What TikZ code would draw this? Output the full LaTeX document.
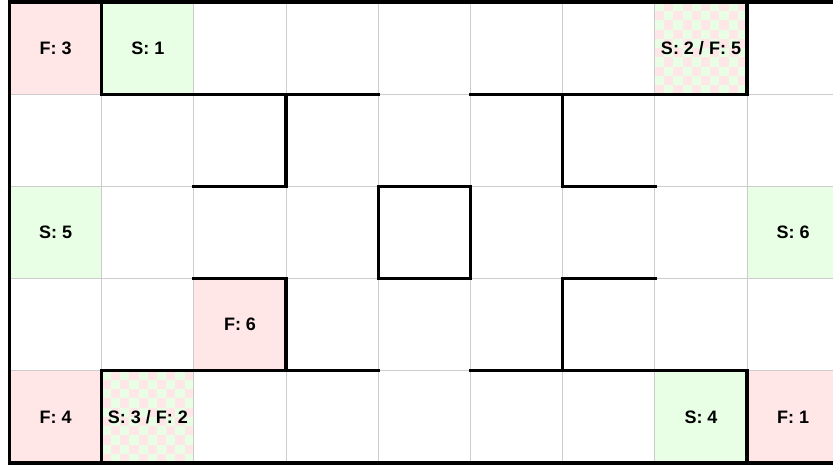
\documentclass[tikz,border=0pt]{standalone}
\usepackage{fontspec}
\setmainfont{Liberation Sans}
\definecolor{pinkc}{RGB}{255,231,231}
\definecolor{greenc}{RGB}{232,255,230}
\definecolor{gridc}{RGB}{204,204,204}
\tikzset{
  cellbox/.style={minimum size=92.2pt, inner sep=0pt, outer sep=0pt, font=\fontsize{18}{21}\selectfont\bfseries},
  pinkcell/.style={cellbox, fill=pinkc},
  greencell/.style={cellbox, fill=greenc},
  wall/.style={line width=3.3pt, line cap=rect, black},
  gridline/.style={gridc, line width=0.9pt}
}
\begin{document}
\begin{tikzpicture}[x=1pt,y=-1pt]
\useasboundingbox (0,0) rectangle (833,466);
\clip (0,0) rectangle (833,466);
\fill[white] (0,0) rectangle (833,466);
\begin{scope}[shift={(9.5pt,-2pt)}, x=92.2pt, y=-92.2pt]
  % checkered backgrounds
  \foreach \cx/\cy in {7/0, 1/4} {
    \fill[greenc] (\cx,\cy) rectangle ++(1,1);
    \foreach \i in {0,...,9} {
      \foreach \j in {0,...,9} {
        \pgfmathtruncatemacro\kk{mod(\i+\j,2)}
        \ifnum\kk=1
          \fill[pinkc] (\cx+\i/10,\cy+\j/10) rectangle ++(0.1,0.1);
        \fi
      }
    }
  }
  % coloured cells
  \node[pinkcell]  (f3) at (0.5,0.5) {};
  \node[greencell] (s1) at (1.5,0.5) {};
  \node[greencell] (s5) at (0.5,2.5) {};
  \node[greencell] (s6) at (8.5,2.5) {};
  \node[pinkcell]  (f6) at (2.5,3.5) {};
  \node[pinkcell]  (f4) at (0.5,4.5) {};
  \node[greencell] (s4) at (7.5,4.5) {};
  \node[pinkcell]  (f1) at (8.5,4.5) {};
  % grid
  \foreach \i in {1,...,9} \draw[gridline] (\i,0) -- (\i,5);
  \foreach \j in {1,...,4} \draw[gridline] (0,\j) -- (9,\j);
  % labels
  \node[cellbox] (tf3) at (0.5,0.5) {F: 3};
  \node[cellbox] (ts1) at (1.5,0.5) {S: 1};
  \node[cellbox] (ts2) at (7.5,0.5) {S: 2 / F: 5};
  \node[cellbox] (ts5) at (0.5,2.5) {S: 5};
  \node[cellbox] (ts6) at (8.5,2.5) {S: 6};
  \node[cellbox] (tf6) at (2.5,3.5) {F: 6};
  \node[cellbox] (tf4) at (0.5,4.5) {F: 4};
  \node[cellbox] (ts3) at (1.5,4.5) {S: 3 / F: 2};
  \node[cellbox] (ts4) at (7.5,4.5) {S: 4};
  \node[cellbox] (tf1) at (8.5,4.5) {F: 1};
  % walls
  \draw[wall] (0,0) rectangle (9,5);
  \draw[wall] (1,0) -- (1,1) -- (4,1);
  \draw[wall] (3,1) -- (3,2) -- (2,2);
  \draw[wall] (8,0) -- (8,1) -- (5,1);
  \draw[wall] (6,1) -- (6,2) -- (7,2);
  \draw[wall] (4,2) rectangle (5,3);
  \draw[wall] (2,3) -- (3,3) -- (3,4);
  \draw[wall] (4,4) -- (1,4) -- (1,5);
  \draw[wall] (7,3) -- (6,3) -- (6,4);
  \draw[wall] (5,4) -- (8,4) -- (8,5);
\end{scope}
\end{tikzpicture}
\end{document}
